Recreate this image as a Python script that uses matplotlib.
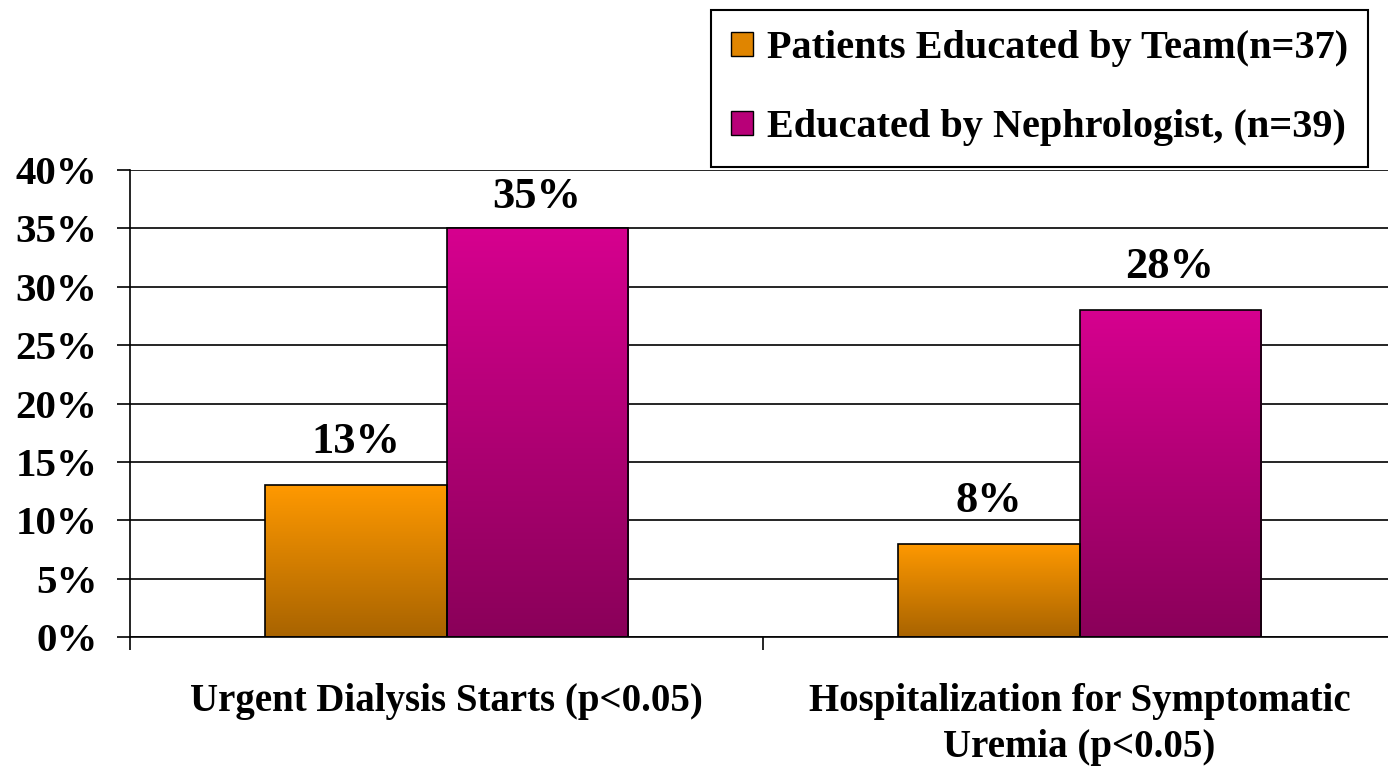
import numpy as np
import matplotlib
matplotlib.use("Agg")
import matplotlib.pyplot as plt
from matplotlib.colors import LinearSegmentedColormap
from matplotlib.patches import Patch

plt.rcParams['font.family'] = ['Liberation Serif', 'DejaVu Serif']
plt.rcParams['font.weight'] = 'bold'

# ---- data ----
categories = ["Urgent Dialysis Starts (p<0.05)",
              "Hospitalization for Symptomatic\nUremia (p<0.05)"]
team_values = [13, 8]
neph_values = [35, 28]
series_names = ["Patients Educated by Team(n=37)",
                "Educated by Nephrologist, (n=39)"]
yticks = [0, 5, 10, 15, 20, 25, 30, 35, 40]
ytick_labels = [f"{v}%" for v in yticks]

# ---- style ----
team_top, team_bot = (1.0, 0.60, 0.0), (0.66, 0.39, 0.0)
neph_top, neph_bot = (0.84, 0.0, 0.56), (0.54, 0.0, 0.35)
team_label_offsets = [31, 31]   # points above bar top
neph_label_offsets = [22.5, 31]

fig = plt.figure(figsize=(13.88, 7.69), dpi=100)
ax = fig.add_axes([130/1388, 1-637/769, 1266/1388, 467/769])

x = np.arange(len(categories))
w = 0.286
bars_team = ax.bar(x - w/2, team_values, w, facecolor='none', edgecolor='black', linewidth=1.2, zorder=3)
bars_neph = ax.bar(x + w/2, neph_values, w, facecolor='none', edgecolor='black', linewidth=1.2, zorder=3)

grad = np.linspace(0, 1, 256).reshape(-1, 1)
for bars, top, bot in [(bars_team, team_top, team_bot), (bars_neph, neph_top, neph_bot)]:
    cmap = LinearSegmentedColormap.from_list("g", [bot, top])
    for p in bars:
        x0, y0 = p.get_x(), p.get_y()
        x1, y1 = x0 + p.get_width(), y0 + p.get_height()
        im = ax.imshow(grad, extent=[x0, x1, y0, y1], origin='lower', aspect='auto',
                       cmap=cmap, zorder=2)
        im.set_clip_path(p)

# value labels
for bars, vals, offs in [(bars_team, team_values, team_label_offsets),
                         (bars_neph, neph_values, neph_label_offsets)]:
    for p, v, off in zip(bars, vals, offs):
        ax.annotate(f"{v}%", (p.get_x() + p.get_width()/2, p.get_height()),
                    xytext=(0, off), textcoords='offset points',
                    ha='center', va='center', fontsize=32, fontweight='bold')

ax.set_xlim(-0.5, 1.5)
ax.set_ylim(0, 40)
ax.set_yticks(yticks)
ax.set_yticklabels(ytick_labels, fontsize=29.5)
ax.tick_params(axis='y', direction='out', length=9.4, width=1.2, pad=14)
ax.yaxis.grid(True, color='black', linewidth=1.2)
ax.set_axisbelow(True)

ax.set_xticks([-0.5, 0.5, 1.5])
ax.set_xticklabels([])
ax.tick_params(axis='x', which='major', direction='out', length=9.4, width=1.2)
ax.set_xticks(x, minor=True)
ax.set_xticklabels(categories, minor=True, fontsize=28, linespacing=1.32)
ax.tick_params(axis='x', which='minor', length=0, pad=33)

for s in ['top', 'right']:
    ax.spines[s].set_visible(False)
for s in ['left', 'bottom']:
    ax.spines[s].set_linewidth(1.2)

handles = [Patch(facecolor=(0.88, 0.52, 0.0), edgecolor='black', linewidth=1.0),
           Patch(facecolor=(0.72, 0.0, 0.47), edgecolor='black', linewidth=1.0)]
leg = ax.legend(handles, series_names, loc='upper center',
                bbox_to_anchor=(1039.5/1388, 1-10/769), bbox_transform=fig.transFigure,
                frameon=True, fancybox=False, framealpha=1, edgecolor='black',
                prop={'family': 'Liberation Serif', 'weight': 'bold', 'size': 29},
                handlelength=0.55, handleheight=0.55, handletextpad=0.35,
                labelspacing=1.05, borderpad=0.5, borderaxespad=0)
leg.get_frame().set_linewidth(1.5)

fig.savefig("out.png", dpi=100)
